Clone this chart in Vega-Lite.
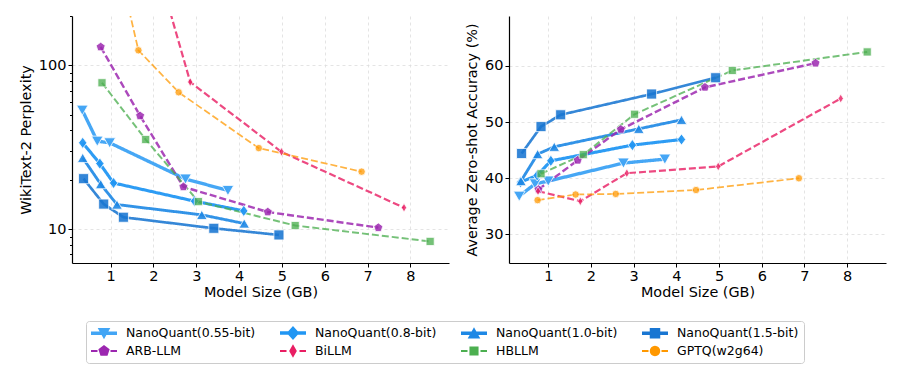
{
  "$schema": "https://vega.github.io/schema/vega-lite/v6.json",
  "padding": {"left": 18, "top": 15, "right": 5, "bottom": 5},
  "background": "white",
  "config": {
    "font": "DejaVu Sans",
    "view": {"stroke": null},
    "legend": {"labelFont": "DejaVu Sans", "labelFontSize": 12.5, "labelColor": "#000000"}
  },
  "datasets": {
    "ppl": [
      {"method": "NanoQuant(0.55-bit)", "size": 0.34, "v": 53.2},
      {"method": "NanoQuant(0.55-bit)", "size": 0.69, "v": 34.4},
      {"method": "NanoQuant(0.55-bit)", "size": 0.98, "v": 33.6},
      {"method": "NanoQuant(0.55-bit)", "size": 2.75, "v": 20.2},
      {"method": "NanoQuant(0.55-bit)", "size": 3.74, "v": 17.2},
      {"method": "NanoQuant(0.8-bit)", "size": 0.35, "v": 33.6},
      {"method": "NanoQuant(0.8-bit)", "size": 0.75, "v": 25.1},
      {"method": "NanoQuant(0.8-bit)", "size": 1.07, "v": 19.1},
      {"method": "NanoQuant(0.8-bit)", "size": 2.96, "v": 14.8},
      {"method": "NanoQuant(0.8-bit)", "size": 4.11, "v": 12.9},
      {"method": "NanoQuant(1.0-bit)", "size": 0.35, "v": 27.2},
      {"method": "NanoQuant(1.0-bit)", "size": 0.77, "v": 18.8},
      {"method": "NanoQuant(1.0-bit)", "size": 1.15, "v": 14.1},
      {"method": "NanoQuant(1.0-bit)", "size": 3.13, "v": 12.2},
      {"method": "NanoQuant(1.0-bit)", "size": 4.12, "v": 10.8},
      {"method": "NanoQuant(1.5-bit)", "size": 0.37, "v": 20.3},
      {"method": "NanoQuant(1.5-bit)", "size": 0.84, "v": 14.2},
      {"method": "NanoQuant(1.5-bit)", "size": 1.30, "v": 11.8},
      {"method": "NanoQuant(1.5-bit)", "size": 3.41, "v": 10.1},
      {"method": "NanoQuant(1.5-bit)", "size": 4.93, "v": 9.2},
      {"method": "ARB-LLM", "size": 0.77, "v": 129.4},
      {"method": "ARB-LLM", "size": 1.69, "v": 49.1},
      {"method": "ARB-LLM", "size": 2.70, "v": 18.1},
      {"method": "ARB-LLM", "size": 4.67, "v": 12.7},
      {"method": "ARB-LLM", "size": 7.25, "v": 10.2},
      {"method": "BiLLM", "size": 0.77, "v": 2500},
      {"method": "BiLLM", "size": 1.77, "v": 780},
      {"method": "BiLLM", "size": 2.86, "v": 79.0},
      {"method": "BiLLM", "size": 4.99, "v": 29.6},
      {"method": "BiLLM", "size": 7.85, "v": 13.5},
      {"method": "HBLLM", "size": 0.80, "v": 78.2},
      {"method": "HBLLM", "size": 1.82, "v": 35.2},
      {"method": "HBLLM", "size": 3.05, "v": 14.7},
      {"method": "HBLLM", "size": 5.31, "v": 10.5},
      {"method": "HBLLM", "size": 8.46, "v": 8.4},
      {"method": "GPTQ(w2g64)", "size": 0.75, "v": 1280},
      {"method": "GPTQ(w2g64)", "size": 1.65, "v": 123.5},
      {"method": "GPTQ(w2g64)", "size": 2.59, "v": 68.4},
      {"method": "GPTQ(w2g64)", "size": 4.46, "v": 31.2},
      {"method": "GPTQ(w2g64)", "size": 6.86, "v": 22.4}
    ],
    "acc": [
      {"method": "NanoQuant(0.55-bit)", "size": 0.32, "v": 36.8},
      {"method": "NanoQuant(0.55-bit)", "size": 0.69, "v": 39.0},
      {"method": "NanoQuant(0.55-bit)", "size": 1.0, "v": 39.5},
      {"method": "NanoQuant(0.55-bit)", "size": 2.76, "v": 42.7},
      {"method": "NanoQuant(0.55-bit)", "size": 3.73, "v": 43.4},
      {"method": "NanoQuant(0.8-bit)", "size": 0.35, "v": 39.3},
      {"method": "NanoQuant(0.8-bit)", "size": 0.74, "v": 40.5},
      {"method": "NanoQuant(0.8-bit)", "size": 1.06, "v": 43.1},
      {"method": "NanoQuant(0.8-bit)", "size": 2.97, "v": 45.9},
      {"method": "NanoQuant(0.8-bit)", "size": 4.12, "v": 46.9},
      {"method": "NanoQuant(1.0-bit)", "size": 0.36, "v": 39.5},
      {"method": "NanoQuant(1.0-bit)", "size": 0.75, "v": 44.3},
      {"method": "NanoQuant(1.0-bit)", "size": 1.14, "v": 45.6},
      {"method": "NanoQuant(1.0-bit)", "size": 3.12, "v": 48.8},
      {"method": "NanoQuant(1.0-bit)", "size": 4.12, "v": 50.4},
      {"method": "NanoQuant(1.5-bit)", "size": 0.375, "v": 44.4},
      {"method": "NanoQuant(1.5-bit)", "size": 0.83, "v": 49.2},
      {"method": "NanoQuant(1.5-bit)", "size": 1.29, "v": 51.3},
      {"method": "NanoQuant(1.5-bit)", "size": 3.42, "v": 55.0},
      {"method": "NanoQuant(1.5-bit)", "size": 4.92, "v": 57.9},
      {"method": "ARB-LLM", "size": 0.77, "v": 38.0},
      {"method": "ARB-LLM", "size": 1.69, "v": 43.2},
      {"method": "ARB-LLM", "size": 2.70, "v": 48.7},
      {"method": "ARB-LLM", "size": 4.67, "v": 56.2},
      {"method": "ARB-LLM", "size": 7.26, "v": 60.5},
      {"method": "BiLLM", "size": 0.76, "v": 37.7},
      {"method": "BiLLM", "size": 1.75, "v": 35.9},
      {"method": "BiLLM", "size": 2.84, "v": 40.9},
      {"method": "BiLLM", "size": 4.98, "v": 42.1},
      {"method": "BiLLM", "size": 7.85, "v": 54.2},
      {"method": "HBLLM", "size": 0.83, "v": 40.8},
      {"method": "HBLLM", "size": 1.82, "v": 44.2},
      {"method": "HBLLM", "size": 3.02, "v": 51.4},
      {"method": "HBLLM", "size": 5.31, "v": 59.2},
      {"method": "HBLLM", "size": 8.47, "v": 62.5},
      {"method": "GPTQ(w2g64)", "size": 0.75, "v": 36.1},
      {"method": "GPTQ(w2g64)", "size": 1.64, "v": 37.1},
      {"method": "GPTQ(w2g64)", "size": 2.58, "v": 37.2},
      {"method": "GPTQ(w2g64)", "size": 4.46, "v": 37.9},
      {"method": "GPTQ(w2g64)", "size": 6.87, "v": 40.0}
    ]
  },
  "hconcat": [
    {
      "width": 377, "height": 247,
      "data": {"name": "ppl"},
      "encoding": {
        "x": {"field": "size", "type": "quantitative", "title": "Model Size (GB)",
              "scale": {"domain": [0.1, 8.9], "nice": false, "zero": false},
              "axis": {"values": [1, 2, 3, 4, 5, 6, 7, 8], "grid": true,
                       "labelFontSize": 14.5, "titleFontSize": 14.4, "titleFontWeight": "normal",
                       "labelColor": "#000000", "titleColor": "#000000", "domainColor": "#000000", "domainWidth": 1.2,
                       "tickColor": "#000000", "tickSize": 4, "labelPadding": 2, "titlePadding": 3,
                       "gridColor": "#dddddd", "gridDash": [3, 3], "gridWidth": 0.8}},
        "y": {"field": "v", "type": "quantitative", "title": "WikiText-2 Perplexity",
              "scale": {"type": "log", "domain": [6.2, 200], "nice": false},
              "axis": {"values": [7, 8, 9, 10, 20, 30, 40, 50, 60, 70, 80, 90, 100, 200],
                       "labelExpr": "datum.value == 10 || datum.value == 100 ? format(datum.value, 'd') : ''",
                       "tickSize": {"condition": {"test": "datum.value == 10 || datum.value == 100", "value": 4}, "value": 2.5},
                       "gridOpacity": {"condition": {"test": "datum.value == 10 || datum.value == 100", "value": 1}, "value": 0},
                       "grid": true,
                       "labelFontSize": 14.5, "titleFontSize": 14.4, "titleFontWeight": "normal",
                       "labelColor": "#000000", "titleColor": "#000000", "domainColor": "#000000", "domainWidth": 1.2,
                       "tickColor": "#000000", "labelPadding": 2, "titlePadding": 5,
                       "gridColor": "#dddddd", "gridDash": [3, 3], "gridWidth": 0.8}},
        "color": {"field": "method", "type": "nominal",
          "scale": {"domain": ["NanoQuant(0.55-bit)", "NanoQuant(0.8-bit)", "NanoQuant(1.0-bit)", "NanoQuant(1.5-bit)", "ARB-LLM", "BiLLM", "HBLLM", "GPTQ(w2g64)"],
                    "range": ["#42A5F5", "#2196F3", "#1E88E5", "#1976D2", "#9C27B0", "#E91E63", "#4CAF50", "#FF9800"]},
          "legend": {
            "title": null, "orient": "none", "legendX": 14, "legendY": 305,
            "direction": "horizontal", "columns": 4, "gridAlign": "each",
            "padding": 5, "rowPadding": 4, "columnPadding": 24,
            "symbolSize": 196, "symbolStrokeWidth": 0, "labelOffset": 21,
            "strokeColor": "#cccccc", "fillColor": "#ffffff", "cornerRadius": 3,
            "encode": {"symbols": {"update": {
              "opacity": {"value": 1},
              "size": {"value": 196},
              "strokeWidth": {"value": 0},
              "shape": {"signal": "['M-1,-0.25L2.714,-0.25L2.714,0.25L-1,0.25ZM-0.043,-0.75L1.757,-0.75L0.857,0.85Z','M-1,-0.25L2.714,-0.25L2.714,0.25L-1,0.25ZM0.857,-1L1.757,0L0.857,1L-0.043,0Z','M-1,-0.25L2.714,-0.25L2.714,0.25L-1,0.25ZM0.857,-0.85L1.757,0.75L-0.043,0.75Z','M-1,-0.25L2.714,-0.25L2.714,0.25L-1,0.25ZM0.107,-0.75L1.607,-0.75L1.607,0.75L0.107,0.75Z','M-1,-0.16L-0.071,-0.16L-0.071,0.16L-1,0.16ZM1.786,-0.16L2.714,-0.16L2.714,0.16L1.786,0.16ZM0.857,-0.85L1.665,-0.263L1.357,0.688L0.357,0.688L0.049,-0.263Z','M-1,-0.16L-0.071,-0.16L-0.071,0.16L-1,0.16ZM1.786,-0.16L2.714,-0.16L2.714,0.16L1.786,0.16ZM0.857,-0.95L1.407,0L0.857,0.95L0.307,0Z','M-1,-0.16L-0.071,-0.16L-0.071,0.16L-1,0.16ZM1.786,-0.16L2.714,-0.16L2.714,0.16L1.786,0.16ZM0.207,-0.65L1.507,-0.65L1.507,0.65L0.207,0.65Z','M-1,-0.16L-0.071,-0.16L-0.071,0.16L-1,0.16ZM1.786,-0.16L2.714,-0.16L2.714,0.16L1.786,0.16ZM1.607,0L1.55,0.287L1.387,0.53L1.144,0.693L0.857,0.75L0.57,0.693L0.327,0.53L0.164,0.287L0.107,0L0.164,-0.287L0.327,-0.53L0.57,-0.693L0.857,-0.75L1.144,-0.693L1.387,-0.53L1.55,-0.287Z'][indexof(['NanoQuant(0.55-bit)','NanoQuant(0.8-bit)','NanoQuant(1.0-bit)','NanoQuant(1.5-bit)','ARB-LLM','BiLLM','HBLLM','GPTQ(w2g64)'], datum.value)]"}
            }}}
          }},
        "opacity": {"field": "method", "type": "nominal", "legend": null,
          "scale": {"domain": ["GPTQ(w2g64)", "HBLLM", "BiLLM", "ARB-LLM", "NanoQuant(1.5-bit)", "NanoQuant(1.0-bit)", "NanoQuant(0.8-bit)", "NanoQuant(0.55-bit)"],
                    "range": [0.74, 0.98]}}
      },
      "layer": [
        {"mark": {"type": "line", "clip": true},
         "encoding": {
           "strokeWidth": {"field": "method", "type": "nominal", "legend": null,
             "scale": {"domain": ["GPTQ(w2g64)", "HBLLM", "BiLLM", "ARB-LLM", "NanoQuant(1.5-bit)", "NanoQuant(1.0-bit)", "NanoQuant(0.8-bit)", "NanoQuant(0.55-bit)"],
                       "range": [1.75, 3.35]}},
           "strokeDash": {"field": "method", "type": "nominal", "legend": null,
             "scale": {"domain": ["GPTQ(w2g64)", "HBLLM", "BiLLM", "ARB-LLM", "NanoQuant(1.5-bit)", "NanoQuant(1.0-bit)", "NanoQuant(0.8-bit)", "NanoQuant(0.55-bit)"],
                       "range": [[7, 3], [7, 3], [7, 3], [7, 3], [1, 0], [1, 0], [1, 0], [1, 0]]}}
         }},
        {"mark": {"type": "point", "filled": true, "clip": true, "stroke": "#ffffff", "strokeWidth": 0.8},
         "encoding": {
           "shape": {"field": "method", "type": "nominal", "legend": null,
             "scale": {"domain": ["GPTQ(w2g64)", "HBLLM", "BiLLM", "ARB-LLM", "NanoQuant(1.5-bit)", "NanoQuant(1.0-bit)", "NanoQuant(0.8-bit)", "NanoQuant(0.55-bit)"],
                       "range": ["circle", "square", "M0,-1L0.6,0L0,1L-0.6,0Z", "M0,-1L0.951,-0.309L0.588,0.809L-0.588,0.809L-0.951,-0.309Z", "square", "triangle-up", "M0,-1L0.75,0L0,1L-0.75,0Z", "triangle-down"]}},
           "size": {"field": "method", "type": "nominal", "legend": null,
             "scale": {"domain": ["GPTQ(w2g64)", "HBLLM", "BiLLM", "ARB-LLM", "NanoQuant(1.5-bit)", "NanoQuant(1.0-bit)", "NanoQuant(0.8-bit)", "NanoQuant(0.55-bit)"],
                       "range": [55, 135]}}
         }}
      ]
    },
    {
      "width": 377, "height": 247,
      "data": {"name": "acc"},
      "encoding": {
        "x": {"field": "size", "type": "quantitative", "title": "Model Size (GB)",
              "scale": {"domain": [0.08, 8.91], "nice": false, "zero": false},
              "axis": {"values": [1, 2, 3, 4, 5, 6, 7, 8], "grid": true,
                       "labelFontSize": 14.5, "titleFontSize": 14.4, "titleFontWeight": "normal",
                       "labelColor": "#000000", "titleColor": "#000000", "domainColor": "#000000", "domainWidth": 1.2,
                       "tickColor": "#000000", "tickSize": 4, "labelPadding": 2, "titlePadding": 3,
                       "gridColor": "#dddddd", "gridDash": [3, 3], "gridWidth": 0.8}},
        "y": {"field": "v", "type": "quantitative", "title": "Average Zero-shot Accuracy (%)",
              "scale": {"domain": [24.9, 68.9], "nice": false, "zero": false},
              "axis": {"values": [30, 40, 50, 60], "grid": true,
                       "labelFontSize": 14.5, "titleFontSize": 14.4, "titleFontWeight": "normal",
                       "labelColor": "#000000", "titleColor": "#000000", "domainColor": "#000000", "domainWidth": 1.2,
                       "tickColor": "#000000", "tickSize": 4, "labelPadding": 2, "titlePadding": 5,
                       "gridColor": "#dddddd", "gridDash": [3, 3], "gridWidth": 0.8}},
        "color": {"field": "method", "type": "nominal",
          "legend": {
            "title": null, "orient": "none", "legendX": 14, "legendY": 305,
            "direction": "horizontal", "columns": 4, "gridAlign": "each",
            "padding": 5, "rowPadding": 4, "columnPadding": 24,
            "symbolSize": 196, "symbolStrokeWidth": 0, "labelOffset": 21,
            "strokeColor": "#cccccc", "fillColor": "#ffffff", "cornerRadius": 3,
            "encode": {"symbols": {"update": {
              "opacity": {"value": 1},
              "size": {"value": 196},
              "strokeWidth": {"value": 0},
              "shape": {"signal": "['M-1,-0.25L2.714,-0.25L2.714,0.25L-1,0.25ZM-0.043,-0.75L1.757,-0.75L0.857,0.85Z','M-1,-0.25L2.714,-0.25L2.714,0.25L-1,0.25ZM0.857,-1L1.757,0L0.857,1L-0.043,0Z','M-1,-0.25L2.714,-0.25L2.714,0.25L-1,0.25ZM0.857,-0.85L1.757,0.75L-0.043,0.75Z','M-1,-0.25L2.714,-0.25L2.714,0.25L-1,0.25ZM0.107,-0.75L1.607,-0.75L1.607,0.75L0.107,0.75Z','M-1,-0.16L-0.071,-0.16L-0.071,0.16L-1,0.16ZM1.786,-0.16L2.714,-0.16L2.714,0.16L1.786,0.16ZM0.857,-0.85L1.665,-0.263L1.357,0.688L0.357,0.688L0.049,-0.263Z','M-1,-0.16L-0.071,-0.16L-0.071,0.16L-1,0.16ZM1.786,-0.16L2.714,-0.16L2.714,0.16L1.786,0.16ZM0.857,-0.95L1.407,0L0.857,0.95L0.307,0Z','M-1,-0.16L-0.071,-0.16L-0.071,0.16L-1,0.16ZM1.786,-0.16L2.714,-0.16L2.714,0.16L1.786,0.16ZM0.207,-0.65L1.507,-0.65L1.507,0.65L0.207,0.65Z','M-1,-0.16L-0.071,-0.16L-0.071,0.16L-1,0.16ZM1.786,-0.16L2.714,-0.16L2.714,0.16L1.786,0.16ZM1.607,0L1.55,0.287L1.387,0.53L1.144,0.693L0.857,0.75L0.57,0.693L0.327,0.53L0.164,0.287L0.107,0L0.164,-0.287L0.327,-0.53L0.57,-0.693L0.857,-0.75L1.144,-0.693L1.387,-0.53L1.55,-0.287Z'][indexof(['NanoQuant(0.55-bit)','NanoQuant(0.8-bit)','NanoQuant(1.0-bit)','NanoQuant(1.5-bit)','ARB-LLM','BiLLM','HBLLM','GPTQ(w2g64)'], datum.value)]"}
            }}}
          }},
        "opacity": {"field": "method", "type": "nominal", "legend": null}
      },
      "layer": [
        {"mark": {"type": "line", "clip": true},
         "encoding": {
           "strokeWidth": {"field": "method", "type": "nominal", "legend": null},
           "strokeDash": {"field": "method", "type": "nominal", "legend": null}
         }},
        {"mark": {"type": "point", "filled": true, "clip": true, "stroke": "#ffffff", "strokeWidth": 0.8},
         "encoding": {
           "shape": {"field": "method", "type": "nominal", "legend": null},
           "size": {"field": "method", "type": "nominal", "legend": null}
         }}
      ]
    }
  ],
  "spacing": 15
}
